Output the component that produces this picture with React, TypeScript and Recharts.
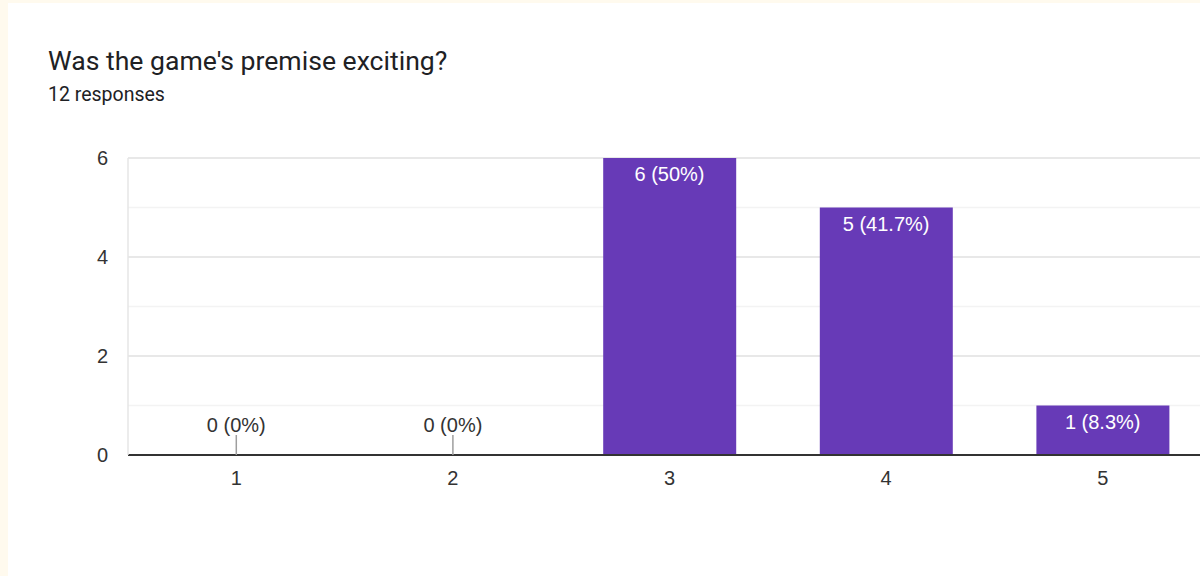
import React from 'react';
import { ComposedChart, Bar, Line, XAxis, YAxis, CartesianGrid } from 'recharts';

const categories = ['1', '2', '3', '4', '5'];
const counts = [0, 0, 6, 5, 1];
const yTicks = [0, 1, 2, 3, 4, 5, 6];
const majorLines = [2, 4, 6];
const yMax = 6;

const total = counts.reduce((a, b) => a + b, 0);
const data = categories.map((c, i) => ({ category: c, count: counts[i] }));

const CHART_FONT = '"Liberation Sans", Arial, sans-serif';
const PURPLE = '#673ab7';

function pctText(v: number) {
  const pct = total ? Number(((v / total) * 100).toFixed(1)) : 0;
  return `${v} (${pct}%)`;
}

// darker gridlines at the labelled values, placed through the y axis scale
const majorGrid = (props: any) => {
  const s = props?.yAxis?.scale;
  const f =
    typeof s === 'function'
      ? (v: number) => s(v)
      : s && typeof s.map === 'function'
      ? (v: number) => s.map(v)
      : null;
  if (f) return majorLines.map(f);
  const { top, height } = props.offset;
  return majorLines.map((v) => top + height * (1 - v / yMax));
};

function ValueLabel(props: any) {
  const { cx, cy, value, index } = props;
  const v = Number(value ?? 0);
  if (cx == null || cy == null) return <g key={index} />;
  if (v === 0) {
    return (
      <g key={index}>
        <line x1={cx} x2={cx} y1={cy} y2={cy - 20} stroke="#9e9e9e" strokeWidth={1.5} />
        <text x={cx} y={cy - 23} textAnchor="middle" fill="#333" fontSize={20} fontFamily={CHART_FONT}>
          {pctText(v)}
        </text>
      </g>
    );
  }
  return (
    <text key={index} x={cx} y={cy + 23} textAnchor="middle" fill="#fff" fontSize={20} fontFamily={CHART_FONT}>
      {pctText(v)}
    </text>
  );
}

export default function App() {
  return (
    <div style={{ position: 'fixed', inset: 0, background: '#fffaee', overflow: 'hidden' }}>
      <div style={{ position: 'absolute', left: 8, top: 3, right: 0, bottom: 0, background: '#fff' }} />
      <div
        style={{
          position: 'absolute',
          left: 48,
          top: 47,
          fontFamily: 'Roboto, "Noto Sans", sans-serif',
          fontSize: 26.6,
          lineHeight: '27px',
          color: '#202124',
          whiteSpace: 'nowrap',
        }}
      >
        Was the game's premise exciting?
      </div>
      <div
        style={{
          position: 'absolute',
          left: 48,
          top: 85,
          fontFamily: 'Roboto, "Noto Sans", sans-serif',
          fontSize: 19.5,
          lineHeight: '20px',
          color: '#202124',
          whiteSpace: 'nowrap',
        }}
      >
        {total} responses
      </div>
      <div style={{ position: 'absolute', left: 0, top: 0 }}>
        <ComposedChart
          width={1300}
          height={576}
          data={data}
          margin={{ top: 158, right: 89, left: 0, bottom: 91 }}
        >
          <CartesianGrid vertical={false} stroke="#f3f3f3" strokeWidth={1.5} />
          <CartesianGrid vertical={false} stroke="#e8e8e8" strokeWidth={2} horizontalCoordinatesGenerator={majorGrid} />
          <XAxis
            dataKey="category"
            height={30}
            axisLine={{ stroke: '#333', strokeWidth: 2 }}
            tickLine={false}
            tickSize={0}
            tickMargin={16}
            tick={{ fill: '#333', fontSize: 20, fontFamily: CHART_FONT }}
          />
          <YAxis
            width={128}
            domain={[0, yMax]}
            ticks={yTicks}
            interval={0}
            tickFormatter={(v: number) => (v % 2 === 0 ? String(v) : '')}
            axisLine={{ stroke: '#e6e6e6', strokeWidth: 1.5 }}
            tickLine={false}
            tickSize={0}
            tickMargin={20}
            tick={{ fill: '#333', fontSize: 20, fontFamily: CHART_FONT }}
          />
          <Bar dataKey="count" fill={PURPLE} barSize={133} isAnimationActive={false} />
          <Line
            dataKey="count"
            stroke="none"
            dot={ValueLabel}
            activeDot={false}
            legendType="none"
            isAnimationActive={false}
          />
        </ComposedChart>
      </div>
    </div>
  );
}
